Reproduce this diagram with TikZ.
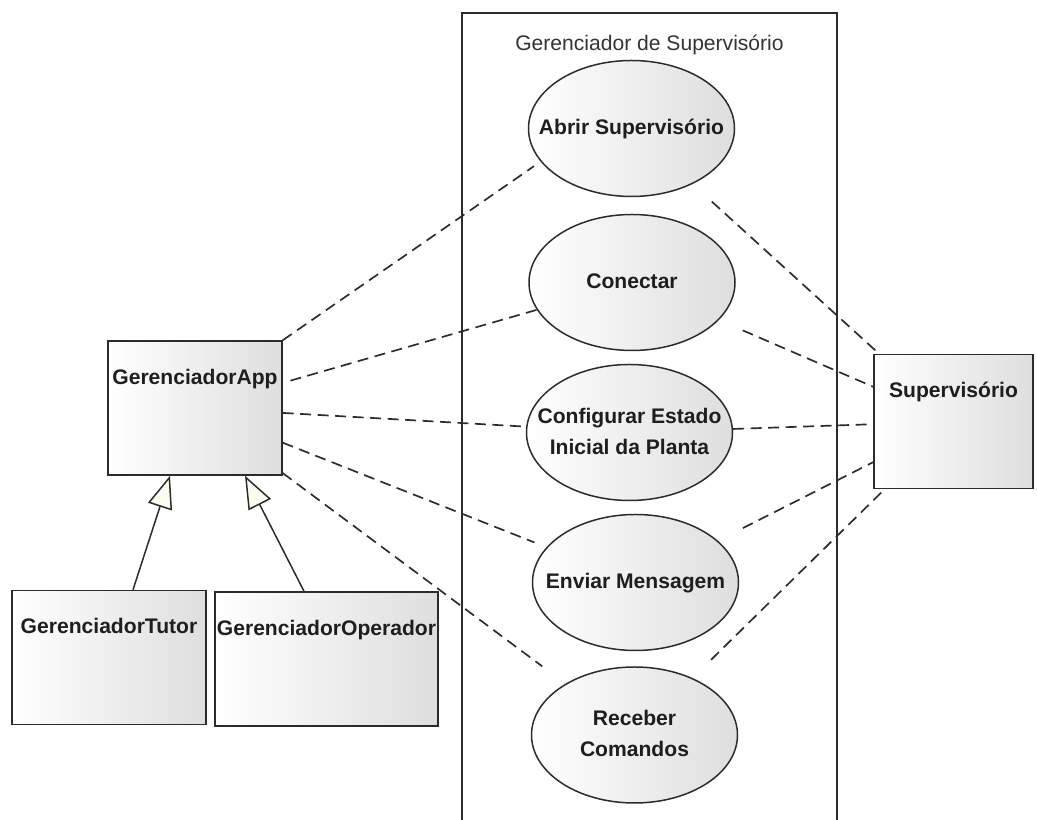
\documentclass[tikz,border=0pt]{standalone}
\usepackage{fontspec}
\setmainfont{Liberation Sans}
\usepackage{tikz}
\usetikzlibrary{positioning, shapes.geometric, arrows.meta}
\usepackage{xcolor}
\definecolor{ucline}{HTML}{2B2B2B}
\definecolor{uctext}{HTML}{1E1E1E}
\definecolor{ucgray}{HTML}{DEDEDE}
\definecolor{uctip}{HTML}{FBFBEF}
\newcommand{\uctexto}[1]{\makebox[0pt]{\begin{tabular}{@{}c@{}}#1\end{tabular}}}

\begin{document}
\begin{tikzpicture}[font=\fontsize{12}{17.5}\selectfont,
    caso/.style={ellipse, draw=ucline, line width=0.85pt, left color=white, right color=ucgray,
                 minimum width=4.12cm, minimum height=2.72cm, inner sep=1pt, text=uctext,
                 font=\bfseries\fontsize{12}{17.5}\selectfont},
    classe/.style={rectangle, draw=ucline, line width=0.85pt, left color=white, right color=ucgray,
                   inner xsep=0pt, inner ysep=0pt, text height=0.87cm, text depth=1.81cm, text=uctext,
                   font=\bfseries\fontsize{12}{17.5}\selectfont},
    assoc/.style={ucline, line width=0.95pt, dash pattern=on 0.22cm off 0.13cm},
    gen/.style={ucline, line width=0.85pt, -{Triangle[length=0.65cm, width=0.5cm, fill=uctip]}}]
    \useasboundingbox (0,0) rectangle (20.74,16.4);
    \clip (0,0) rectangle (20.74,16.4);
    \node[draw=ucline, line width=0.8pt, minimum width=7.5cm, minimum height=16.64cm,
          inner sep=0pt] (sys) at (12.99,7.82) {};
    \node[text=black!80, below=0.33cm of sys.north] (titulo) {Gerenciador de Supervisório};
    \node[caso] (abrir)    at (12.63,13.83) {\uctexto{Abrir Supervisório}};
    \node[caso] (conectar) at (12.64,10.75) {\uctexto{Conectar}};
    \node[caso] (config)   at (12.59,7.75)  {\uctexto{Configurar Estado\\Inicial da Planta}};
    \node[caso] (enviar)   at (12.71,4.75)  {\uctexto{Enviar Mensagem}};
    \node[caso] (receber)  at (12.69,1.70)  {\uctexto{Receber\\Comandos}};
    \node[classe, minimum width=3.48cm] (app)   at (3.9,8.24)   {GerenciadorApp};
    \node[classe, minimum width=3.88cm] (tutor) at (2.18,3.25)  {GerenciadorTutor};
    \node[classe, minimum width=4.46cm] (oper)  at (6.53,3.22)  {GerenciadorOperador};
    \node[classe, minimum width=3.18cm] (sup)   at (19.07,7.97) {Supervisório};
    \draw[gen] ([xshift=0.48cm]tutor.north) -- ([xshift=-0.5cm]app.south);
    \draw[gen] ([xshift=-0.45cm]oper.north) -- ([xshift=1.0cm]app.south);
    \draw[assoc, shorten >=0.16cm] (app.north east) -- (abrir.200);
    \draw[assoc, shorten <=0.16cm] (app) -- (conectar);
    \draw[assoc] (app) -- (config);
    \draw[assoc, shorten >=0.26cm] (app) -- (enviar);
    \draw[assoc, shorten >=0.58cm] (app) -- (receber);
    \draw[assoc, shorten <=0.52cm] (abrir) -- (sup);
    \draw[assoc, shorten <=0.52cm] (conectar) -- (sup);
    \draw[assoc] (config) -- (sup);
    \draw[assoc, shorten <=0.56cm] (enviar) -- (sup);
    \draw[assoc, shorten <=0.52cm] (receber) -- (sup);
  \end{tikzpicture}
\end{document}
